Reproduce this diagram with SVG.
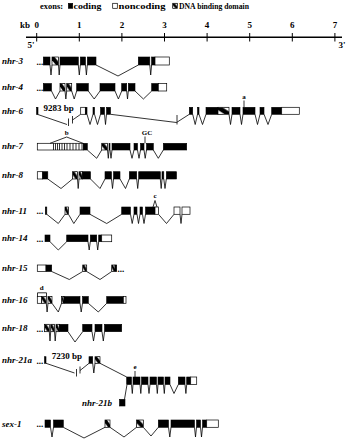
<svg xmlns="http://www.w3.org/2000/svg" width="348" height="440" viewBox="0 0 348 440">
<style>
text{font-family:"Liberation Serif","Times New Roman",serif;font-weight:bold;fill:#000}
.g{font-style:italic;font-size:9px}
.s{font-size:9px}
.m{font-size:7px;text-anchor:middle}
.c{fill:#000;stroke:#000;stroke-width:0.6}
.n{fill:#fff;stroke:#000;stroke-width:0.7}
.h{fill:url(#dbd);stroke:#000;stroke-width:0.7}
.i{fill:none;stroke:#000;stroke-width:0.8;stroke-linejoin:miter}
.ax{stroke:#000;fill:none}
</style>
<defs>
<pattern id="dbd" patternContentUnits="objectBoundingBox" width="1" height="1">
<rect width="1" height="1" fill="#fff"/>
<polygon points="0,0 0.4,0 1,0.6 1,1 0.6,1 0,0.4" fill="#000"/>
</pattern>
</defs>
<rect width="348" height="440" fill="#fff"/>

<g id="legend">
<text class="s" x="40" y="8.5" textLength="23" lengthAdjust="spacingAndGlyphs">exons:</text>
<rect class="c" x="68.3" y="3.3" width="4.4" height="5"/>
<text class="s" x="73.5" y="8.5" textLength="28" lengthAdjust="spacingAndGlyphs">coding</text>
<rect class="n" x="112.7" y="3.3" width="4.6" height="5"/>
<text class="s" x="118.5" y="8.5" textLength="47" lengthAdjust="spacingAndGlyphs">noncoding</text>
<rect class="h" x="172.7" y="3.3" width="4.6" height="5"/>
<text class="s" x="179" y="8.5" textLength="70" lengthAdjust="spacingAndGlyphs">DNA binding domain</text>
</g>

<g id="axis">
<line class="ax" x1="26" y1="37.3" x2="342" y2="37.3" stroke-width="1.5"/>
<path class="ax" stroke-width="1" d="M36.7,33V41.5M79.3,33V41.5M121.9,33V41.5M164.5,33V41.5M207.1,33V41.5M249.7,33V41.5M292.3,33V41.5M334.9,33V41.5"/>
<text class="s" x="20" y="27.5">kb</text>
<g class="s" text-anchor="middle">
<text x="36.7" y="27.5">0</text><text x="79.3" y="27.5">1</text><text x="121.9" y="27.5">2</text><text x="164.5" y="27.5">3</text><text x="207.1" y="27.5">4</text><text x="249.7" y="27.5">5</text><text x="292.3" y="27.5">6</text><text x="334.9" y="27.5">7</text>
</g>
<text class="s" x="27.5" y="47.5">5'</text>
<text class="s" x="338.5" y="48">3'</text>
</g>

<g id="connectors">
<polyline class="i" points="50,65 51,75 52,65"/>
<polyline class="i" points="58.5,65 59.2,75 60,65"/>
<polyline class="i" points="78.3,65 79.3,75 80.3,65"/>
<polyline class="i" points="85.5,65 86.4,75 87.3,65"/>
<polyline class="i" points="96,65 118,76 138.3,65"/>
<polyline class="i" points="149.8,65 150.7,75 151.6,65"/>

<polyline class="i" points="51.5,91 55.5,99 60,91"/>
<polyline class="i" points="65,91 65.85,99 66.7,91"/>
<polyline class="i" points="71.7,91 74.2,99 76.7,91"/>
<polyline class="i" points="88.3,91 94.2,99 100,91"/>
<polyline class="i" points="115,91 118.4,99 121.7,91"/>
<polyline class="i" points="126.7,91 127.5,99 128.3,91"/>
<polyline class="i" points="135,91 143.4,99 151.7,91"/>

<polyline class="i" points="37.3,114.3 67,124.5"/>
<line class="i" x1="68.5" y1="118.5" x2="68.5" y2="126"/>
<line class="i" x1="72.5" y1="116" x2="72.5" y2="123.5"/>
<polyline class="i" points="72.5,120 80.7,114.3"/>
<polyline class="i" points="87,114.3 90,124.5 93,114.3"/>
<polyline class="i" points="94.5,114.3 97.5,124.5 100.5,114.3"/>
<polyline class="i" points="104.5,114.3 105.5,124.5 106.5,114.3"/>
<polyline class="i" points="110.5,114.3 176.5,122.5 189.3,114.3"/>
<line class="i" x1="177" y1="115" x2="177" y2="124.5"/>
<polyline class="i" points="192.7,114.3 195.2,124.5 197.5,114.3"/>
<polyline class="i" points="199,114.3 202.5,124.5 206,114.3"/>
<polyline class="i" points="229,114.3 230.5,124.5 232,114.3"/>
<polyline class="i" points="240,114.3 241.5,124.5 243,114.3"/>
<polyline class="i" points="255,114.3 257.5,124.5 260,114.3"/>
<polyline class="i" points="264,114.3 268,124.5 271.7,114.3"/>

<polyline class="i" points="87.3,150 96.7,158.3 101.7,150"/>
<polyline class="i" points="107.5,150 108.3,158.3 109,150"/>
<polyline class="i" points="110,150 111,158.3 112,150"/>
<polyline class="i" points="130,150 132,158.3 134,150"/>
<polyline class="i" points="137.5,150 139,158.3 140.5,150"/>
<polyline class="i" points="144,150 145.2,158.3 146.5,150"/>
<polyline class="i" points="153.3,150 158.3,158.3 163.3,150"/>

<polyline class="i" points="47.8,179 61,188.5 72.5,179"/>
<polyline class="i" points="77.5,179 78.2,188.5 79,179"/>
<polyline class="i" points="90.5,179 100,188.5 105,179"/>
<polyline class="i" points="111.5,179 112.5,188.5 113.5,179"/>
<polyline class="i" points="120,179 125.5,188.5 129.3,179"/>
<polyline class="i" points="136.7,179 137.7,188.5 138.7,179"/>
<polyline class="i" points="160.3,179 161.2,188.5 162,179"/>
<polyline class="i" points="163.8,179 165,188.5 166.3,179"/>

<polyline class="i" points="46.8,214.3 58.3,223.5 65,214.3"/>
<polyline class="i" points="68.5,214.3 73.8,223.5 80,214.3"/>
<polyline class="i" points="90,214.3 106.7,223.5 121.7,214.3"/>
<polyline class="i" points="130.5,214.3 132.2,223.5 134,214.3"/>
<polyline class="i" points="137,214.3 138.5,223.5 140,214.3"/>
<polyline class="i" points="142.5,214.3 144,223.5 145.5,214.3"/>
<polyline class="i" points="158.5,214.3 166.5,223.5 174,214.3"/>
<polyline class="i" points="180,214.3 181,223.5 182,214.3"/>

<polyline class="i" points="50,241.7 58.3,250 66.7,241.7"/>
<polyline class="i" points="88,241.7 89.2,250 90.3,241.7"/>
<polyline class="i" points="96.7,241.7 97.7,250 98.7,241.7"/>

<polyline class="i" points="51.7,271.5 69.3,279.5 82.7,271.5"/>
<polyline class="i" points="86.7,271.5 100,279.5 111.7,271.5"/>

<polyline class="i" points="46.3,303.3 47.1,312 48,303.3"/>
<polyline class="i" points="52,303.3 58.3,312 61.5,303.3"/>
<polyline class="i" points="80,303.3 81.2,312 82.5,303.3"/>
<polyline class="i" points="88.3,303.3 98.3,312 106.7,303.3"/>

<polyline class="i" points="49.3,331.7 50,341 50.7,331.7"/>
<polyline class="i" points="54.5,331.7 55.2,341 56,331.7"/>
<polyline class="i" points="68,331.7 75,342 82.7,331.7"/>
<polyline class="i" points="92,331.7 93.5,341 95,331.7"/>
<polyline class="i" points="102,331.7 103.3,341 104.5,331.7"/>

<polyline class="i" points="46,363.3 74.5,373"/>
<line class="i" x1="76.5" y1="369" x2="76.5" y2="376.5"/>
<line class="i" x1="80" y1="366.5" x2="80" y2="373.5"/>
<polyline class="i" points="80,370.5 89,363.3"/>
<polyline class="i" points="92.7,363.3 93.8,373 95,363.3"/>
<polyline class="i" points="100,363.3 126.7,377"/>
<polyline class="i" points="131.5,384.5 132.3,393.5 133,384.5"/>
<polyline class="i" points="140,384.5 140.8,393.5 141.5,384.5"/>
<polyline class="i" points="148,384.5 149,393.5 150,384.5"/>
<polyline class="i" points="156.5,384.5 157.3,393.5 158,384.5"/>
<polyline class="i" points="163.5,384.5 164.3,393.5 165,384.5"/>
<polyline class="i" points="170,384.5 174,393.5 178.3,384.5"/>
<polyline class="i" points="185,384.5 185.9,393.5 186.7,384.5"/>
<polyline class="i" points="127,384.5 124.5,399.3"/>

<polyline class="i" points="50.5,427.3 52,437 53.5,427.3"/>
<polyline class="i" points="63.3,427.3 84,438 105,427.3"/>
<polyline class="i" points="110,427.3 124,437 136.5,427.3"/>
<polyline class="i" points="143.3,427.3 151,436 158.3,427.3"/>
<polyline class="i" points="168.5,427.3 169.8,437 171,427.3"/>
<polyline class="i" points="194.5,427.3 195.5,437 196.5,427.3"/>
<polyline class="i" points="200.5,427.3 201.5,437 202.5,427.3"/>
</g>

<g id="nhr-3">
<text class="g" x="2" y="63.5">nhr-3</text>
<text class="s" x="36.5" y="64.5">...</text>
<rect class="c" x="43.3" y="57" width="6.7" height="8"/>
<rect class="h" x="52" y="57" width="6.5" height="8"/>
<rect class="c" x="60" y="57" width="18.3" height="8"/>
<rect class="c" x="80.3" y="57" width="5.2" height="8"/>
<rect class="c" x="87.3" y="57" width="8.7" height="8"/>
<rect class="c" x="138.3" y="57" width="11.5" height="8"/>
<rect class="c" x="151.6" y="57" width="3.4" height="8"/>
<rect class="n" x="155" y="57" width="14.3" height="8"/>
</g>

<g id="nhr-4">
<text class="g" x="2" y="90">nhr-4</text>
<text class="s" x="36.5" y="90.5">...</text>
<rect class="c" x="43.3" y="83.5" width="8.2" height="7.5"/>
<rect class="h" x="60" y="83.5" width="5" height="7.5"/>
<rect class="h" x="66.7" y="83.5" width="5" height="7.5"/>
<rect class="c" x="76.7" y="83.5" width="11.6" height="7.5"/>
<rect class="c" x="100" y="83.5" width="15" height="7.5"/>
<rect class="c" x="121.7" y="83.5" width="5" height="7.5"/>
<rect class="c" x="128.3" y="83.5" width="6.7" height="7.5"/>
<rect class="c" x="151.7" y="83.5" width="6.6" height="7.5"/>
<rect class="n" x="158.3" y="83.5" width="8.4" height="7.5"/>
</g>

<g id="nhr-6">
<text class="g" x="2" y="114">nhr-6</text>
<rect class="c" x="36.6" y="107.3" width="1.4" height="7"/>
<text class="s" x="43.5" y="111" font-size="8">9283 bp</text>
<rect class="n" x="80.7" y="107.3" width="4.6" height="7"/>
<rect class="c" x="85.3" y="107.3" width="1.7" height="7"/>
<rect class="c" x="93" y="107.3" width="1.5" height="7"/>
<rect class="c" x="100.5" y="107.3" width="4" height="7"/>
<rect class="c" x="106.5" y="107.3" width="4" height="7"/>
<rect class="c" x="189.3" y="107.3" width="3.4" height="7"/>
<rect class="c" x="197.5" y="107.3" width="1.5" height="7"/>
<rect class="c" x="206" y="107.3" width="12" height="7"/>
<rect class="h" x="218" y="107.3" width="11" height="7"/>
<rect class="c" x="232" y="107.3" width="8" height="7"/>
<rect class="c" x="243" y="107.3" width="12" height="7"/>
<rect class="c" x="260" y="107.3" width="4" height="7"/>
<rect class="c" x="271.7" y="107.3" width="10" height="7"/>
<rect class="n" x="281.7" y="107.3" width="17.6" height="7"/>
<text class="m" x="244" y="99">a</text>
<line class="i" x1="244" y1="100.5" x2="244" y2="107.3"/>
</g>

<g id="nhr-7">
<text class="g" x="2" y="149">nhr-7</text>
<rect class="n" x="37.3" y="143.3" width="46" height="6.7"/>
<path class="i" stroke-width="0.7" d="M53.5,143.3V150M55.5,143.3V150M57.5,143.3V150M59.5,143.3V150M62,143.3V150M64.5,143.3V150M67,143.3V150M70,143.3V150M73,143.3V150M76,143.3V150M79,143.3V150M82,143.3V150"/>
<rect class="c" x="83.3" y="143.3" width="4" height="6.7"/>
<rect class="h" x="101.7" y="143.3" width="5.8" height="6.7"/>
<rect class="c" x="109" y="143.3" width="1" height="6.7"/>
<rect class="c" x="112" y="143.3" width="18" height="6.7"/>
<rect class="c" x="134" y="143.3" width="3.5" height="6.7"/>
<rect class="c" x="140.5" y="143.3" width="3.5" height="6.7"/>
<rect class="c" x="146.5" y="143.3" width="6.8" height="6.7"/>
<rect class="c" x="163.3" y="143.3" width="23.4" height="6.7"/>
<polyline class="i" points="50,143.3 66.7,137 83,143.3"/>
<text class="m" x="66.7" y="135">b</text>
<text class="m" x="147" y="134.5">GC</text>
<line class="i" x1="145" y1="136.5" x2="145" y2="143.3"/>
</g>

<g id="nhr-8">
<text class="g" x="2" y="178">nhr-8</text>
<rect class="n" x="37.3" y="171.7" width="5.4" height="7.3"/>
<rect class="c" x="42.7" y="171.7" width="5.1" height="7.3"/>
<rect class="h" x="72.5" y="171.7" width="5" height="7.3"/>
<rect class="h" x="79" y="171.7" width="3.5" height="7.3"/>
<rect class="c" x="82.5" y="171.7" width="8" height="7.3"/>
<rect class="c" x="105" y="171.7" width="6.5" height="7.3"/>
<rect class="c" x="113.5" y="171.7" width="6.5" height="7.3"/>
<rect class="c" x="129.3" y="171.7" width="7.4" height="7.3"/>
<rect class="c" x="138.7" y="171.7" width="21.6" height="7.3"/>
<rect class="c" x="162" y="171.7" width="1.8" height="7.3"/>
<rect class="c" x="166.3" y="171.7" width="10.2" height="7.3"/>
</g>

<g id="nhr-11">
<text class="g" x="2" y="213.5">nhr-11</text>
<text class="s" x="36.5" y="214">...</text>
<rect class="c" x="45.3" y="207" width="1.5" height="7.3"/>
<rect class="h" x="65" y="207" width="3.5" height="7.3"/>
<rect class="c" x="80" y="207" width="10" height="7.3"/>
<rect class="c" x="121.7" y="207" width="8.8" height="7.3"/>
<rect class="c" x="134" y="207" width="3" height="7.3"/>
<rect class="c" x="140" y="207" width="2.5" height="7.3"/>
<rect class="c" x="145.5" y="207" width="9.5" height="7.3"/>
<rect class="n" x="155" y="207" width="3.5" height="7.3"/>
<rect class="n" x="174" y="207" width="6" height="7.3"/>
<rect class="n" x="182" y="207" width="8" height="7.3"/>
<text class="m" x="155" y="198">c</text>
<polyline class="i" points="153,207 155,200.5 157,207"/>
</g>

<g id="nhr-14">
<text class="g" x="2" y="240.5">nhr-14</text>
<text class="s" x="36.5" y="241.5">...</text>
<rect class="c" x="45" y="235" width="5" height="6.7"/>
<rect class="c" x="66.7" y="235" width="21.3" height="6.7"/>
<rect class="c" x="90.3" y="235" width="6.4" height="6.7"/>
<rect class="c" x="98.7" y="235" width="3" height="6.7"/>
<rect class="n" x="101.7" y="235" width="10" height="6.7"/>
</g>

<g id="nhr-15">
<text class="g" x="2" y="271">nhr-15</text>
<rect class="n" x="37.3" y="265" width="8.7" height="6.5"/>
<rect class="c" x="46" y="265" width="5.7" height="6.5"/>
<rect class="h" x="82.7" y="265" width="4" height="6.5"/>
<rect class="h" x="111.7" y="265" width="3.3" height="6.5"/>
<rect class="c" x="115" y="265" width="1.7" height="6.5"/>
<text class="s" x="117.5" y="271.5">...</text>
</g>

<g id="nhr-16">
<text class="g" x="2" y="302.5">nhr-16</text>
<rect class="n" x="37.3" y="296.5" width="4.4" height="6.8"/>
<rect class="h" x="41.7" y="296.5" width="4.6" height="6.8"/>
<rect class="h" x="48" y="296.5" width="4" height="6.8"/>
<rect class="h" x="61.5" y="296.5" width="2.5" height="6.8"/>
<rect class="c" x="64" y="296.5" width="16" height="6.8"/>
<rect class="c" x="82.5" y="296.5" width="5.8" height="6.8"/>
<rect class="c" x="106.7" y="296.5" width="16.6" height="6.8"/>
<rect class="n" x="123.3" y="296.5" width="2.7" height="6.8"/>
<text class="m" x="41.7" y="290">d</text>
<polyline class="i" points="37.5,296.5 37.5,292.8 46.5,292.8 46.5,296.5"/>
</g>

<g id="nhr-18">
<text class="g" x="2" y="331">nhr-18</text>
<text class="s" x="36.5" y="331.5">...</text>
<rect class="h" x="44.5" y="324.3" width="4.8" height="7.4"/>
<rect class="h" x="50.7" y="324.3" width="3.8" height="7.4"/>
<rect class="h" x="56" y="324.3" width="3.3" height="7.4"/>
<rect class="c" x="59.3" y="324.3" width="8.7" height="7.4"/>
<rect class="c" x="82.7" y="324.3" width="9.3" height="7.4"/>
<rect class="c" x="95" y="324.3" width="7" height="7.4"/>
<rect class="c" x="104.5" y="324.3" width="17.2" height="7.4"/>
</g>

<g id="nhr-21a">
<text class="g" x="2" y="362.5">nhr-21a</text>
<text class="s" x="36.5" y="363.5">...</text>
<rect class="c" x="44.5" y="356.7" width="1.5" height="6.6"/>
<text class="s" x="51.7" y="358.5" font-size="8">7230 bp</text>
<rect class="c" x="89" y="356.7" width="3.7" height="6.6"/>
<rect class="h" x="95" y="356.7" width="5" height="6.6"/>
<rect class="c" x="126.7" y="377" width="4.8" height="7.5"/>
<rect class="c" x="133" y="377" width="7" height="7.5"/>
<rect class="c" x="141.5" y="377" width="6.5" height="7.5"/>
<rect class="c" x="150" y="377" width="6.5" height="7.5"/>
<rect class="c" x="158" y="377" width="5.5" height="7.5"/>
<rect class="c" x="165" y="377" width="5" height="7.5"/>
<rect class="c" x="178.3" y="377" width="6.7" height="7.5"/>
<rect class="c" x="186.7" y="377" width="4" height="7.5"/>
<rect class="n" x="190.7" y="377" width="6" height="7.5"/>
<text class="m" x="135" y="369">e</text>
<line class="i" x1="135" y1="371" x2="135" y2="377"/>
</g>

<g id="nhr-21b">
<text class="g" x="82" y="405.5">nhr-21b</text>
<rect class="c" x="119.5" y="399.3" width="5.5" height="6.7"/>
</g>

<g id="sex-1">
<text class="g" x="2" y="426.5">sex-1</text>
<text class="s" x="36.5" y="427">...</text>
<rect class="c" x="45" y="420" width="5.5" height="7.3"/>
<rect class="c" x="53.5" y="420" width="9.8" height="7.3"/>
<rect class="h" x="105" y="420" width="5" height="7.3"/>
<rect class="h" x="136.5" y="420" width="6.8" height="7.3"/>
<rect class="c" x="158.3" y="420" width="10.2" height="7.3"/>
<rect class="c" x="171" y="420" width="23.5" height="7.3"/>
<rect class="c" x="196.5" y="420" width="4" height="7.3"/>
<rect class="c" x="202.5" y="420" width="4.2" height="7.3"/>
<rect class="n" x="206.7" y="420" width="11.6" height="7.3"/>
</g>
</svg>
